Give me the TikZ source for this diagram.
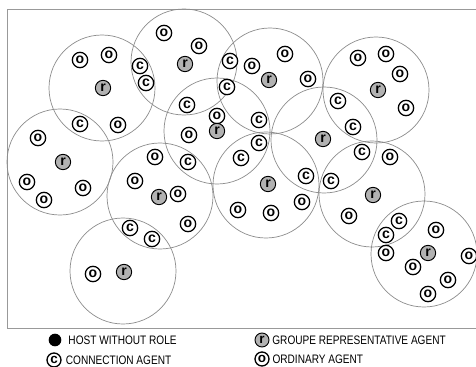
\documentclass[tikz,border=0pt]{standalone}
\usepackage{fontspec}
\setmainfont{Liberation Sans}
\newfontfamily\legendfont[FakeStretch=0.82]{Liberation Sans}
\usetikzlibrary{positioning}

\begin{document}
\begin{tikzpicture}[
    x=0.03cm, y=-0.03cm,
    group/.style={circle, draw=gray!90, line width=0.6pt, minimum size=3.18cm, inner sep=0pt},
    agent/.style={circle, draw=black, line width=1.1pt, fill=white, inner sep=0pt,
                  minimum size=0.46cm, font=\fontsize{12}{12}\selectfont\bfseries},
    ordinary/.style={agent},
    connection/.style={agent},
    representative/.style={agent, fill=gray!60, line width=0.8pt},
    key/.style={minimum size=0.42cm, font=\fontsize{11.5}{11.5}\selectfont\bfseries},
    host/.style={circle, fill=black, inner sep=0pt, minimum size=0.38cm},
    legend/.style={font=\legendfont\fontsize{10.5}{10.5}\selectfont, inner sep=0pt}
]
\useasboundingbox (0,0) rectangle (476,367);

% --- Cadre ---
\draw[gray!80, line width=0.6pt] (478,9) -- (7,9) -- (7,328) -- (478,328);

% --- Groupes ---
\foreach \x/\y [count=\i] in {102/88, 184/62, 270/81, 376/90, 217/131, 324/140,
                              60/162, 160/196, 123/271, 266/185, 372/194, 424/254}
    \node[group] (g\i) at (\x,\y) {};

% --- Agents ordinaires ---
\foreach \x/\y [count=\i] in {80/60, 109/55, 118/125, 38/138, 164/33, 199/46, 217/116,
        189/135, 252/66, 285/54, 308/79, 358/58, 386/54, 400/74, 406/108, 390/157,
        27/182, 44/200, 83/188, 155/157, 135/181, 178/194, 188/224, 93/274,
        302/202, 271/213, 238/210, 349/216, 386/253, 436/230, 469/256, 413/267,
        448/280, 428/294}
    \node[ordinary] (o\i) at (\x,\y) {o};

% --- Agents de connexion ---
\foreach \x/\y [count=\i] in {140/66, 146/83, 80/124, 230/61, 227/87, 187/105,
        338/101, 353/127, 362/152, 259/120, 259/143, 241/158, 188/162, 130/228,
        152/239, 306/176, 331/181, 399/221, 386/235}
    \node[connection] (c\i) at (\x,\y) {c};

% --- Agents representants ---
\foreach \x/\y [count=\i] in {103/88, 185/64, 217/131, 269/80, 378/90, 323/139,
        63/162, 159/197, 124/272, 268/184, 373/195, 428/253}
    \node[representative] (r\i) at (\x,\y) {r};

% --- Legende ---
\node[host] (hostkey) at (55,340) {};
\node[legend, right=0.2cm of hostkey] (hosttext) {HOST WITHOUT ROLE};
\node[connection, key] (connkey) at (54,360) {c};
\node[legend, right=0.12cm of connkey] (conntext) {CONNECTION AGENT};
\node[representative, key] (repkey) at (262,340) {r};
\node[legend, right=0.08cm of repkey] (reptext) {GROUPE REPRESENTATIVE AGENT};
\node[ordinary, key] (ordkey) at (262,359) {o};
\node[legend, right=0.08cm of ordkey] (ordtext) {ORDINARY AGENT};

\end{tikzpicture}
\end{document}
